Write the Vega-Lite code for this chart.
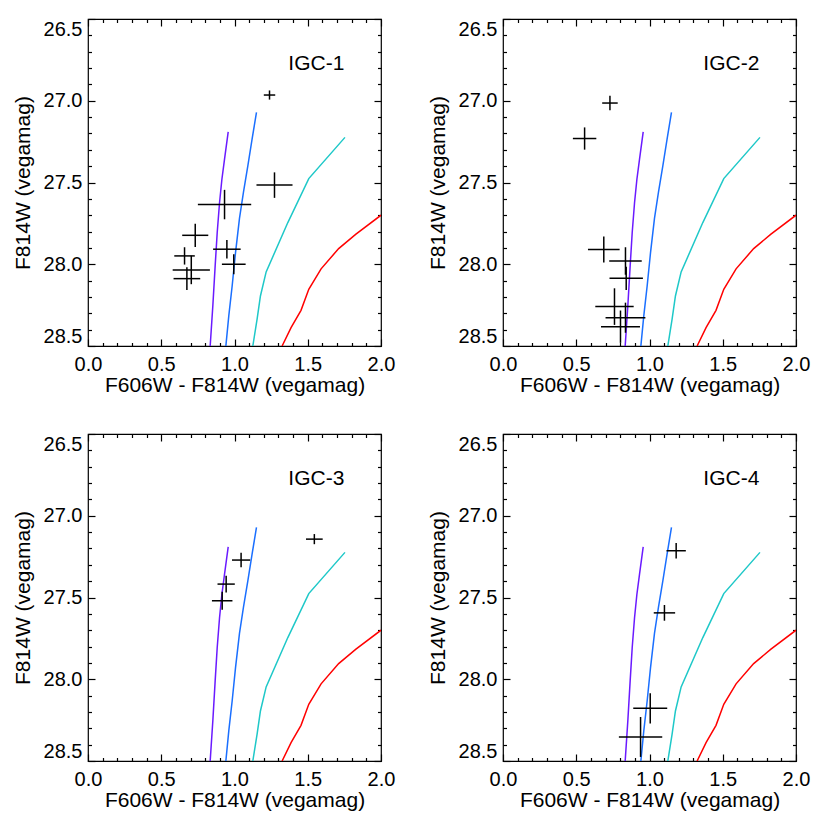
{
"$schema": "https://vega.github.io/schema/vega-lite/v6.json",
"background": "white",
"padding": {"left": 11, "top": 17, "right": 0, "bottom": 0},
"bounds": "flush",
"columns": 2,
"spacing": {"row": 88, "column": 122},
"config": {
  "view": {"stroke": "black", "strokeWidth": 1.2},
  "font": "Liberation Sans",
  "axis": {"domain": false, "grid": false, "labelFont": "Liberation Sans", "labelFontSize": 20, "labelColor": "black", "titleFont": "Liberation Sans", "titleFontSize": 21, "titleFontWeight": "normal", "titleColor": "black", "tickColor": "black", "tickWidth": 1.2}
},
"datasets": {
  "iso": [
    {"track": "1", "col": 0.957, "mag": 27.19}, {"track": "1", "col": 0.932, "mag": 27.357}, {"track": "1", "col": 0.914, "mag": 27.48}, {"track": "1", "col": 0.898, "mag": 27.622}, {"track": "1", "col": 0.882, "mag": 27.806}, {"track": "1", "col": 0.868, "mag": 28.01}, {"track": "1", "col": 0.852, "mag": 28.255}, {"track": "1", "col": 0.834, "mag": 28.5},
    {"track": "2", "col": 1.15, "mag": 27.071}, {"track": "2", "col": 1.12, "mag": 27.235}, {"track": "2", "col": 1.091, "mag": 27.398}, {"track": "2", "col": 1.061, "mag": 27.561}, {"track": "2", "col": 1.034, "mag": 27.72}, {"track": "2", "col": 1.007, "mag": 27.929}, {"track": "2", "col": 0.984, "mag": 28.133}, {"track": "2", "col": 0.961, "mag": 28.316}, {"track": "2", "col": 0.941, "mag": 28.5},
    {"track": "3", "col": 1.754, "mag": 27.224}, {"track": "3", "col": 1.507, "mag": 27.476}, {"track": "3", "col": 1.364, "mag": 27.745}, {"track": "3", "col": 1.216, "mag": 28.047}, {"track": "3", "col": 1.177, "mag": 28.194}, {"track": "3", "col": 1.154, "mag": 28.337}, {"track": "3", "col": 1.125, "mag": 28.5},
    {"track": "4", "col": 2.0, "mag": 27.7}, {"track": "4", "col": 1.829, "mag": 27.816}, {"track": "4", "col": 1.711, "mag": 27.904}, {"track": "4", "col": 1.591, "mag": 28.028}, {"track": "4", "col": 1.507, "mag": 28.153}, {"track": "4", "col": 1.454, "mag": 28.282}, {"track": "4", "col": 1.386, "mag": 28.388}, {"track": "4", "col": 1.325, "mag": 28.5}
  ],
  "stars": [
    {"panel": "IGC-1", "col": 1.239, "mag": 26.965, "ecol": 0.039, "emag": 0.028},
    {"panel": "IGC-1", "col": 1.273, "mag": 27.516, "ecol": 0.123, "emag": 0.078},
    {"panel": "IGC-1", "col": 0.932, "mag": 27.635, "ecol": 0.182, "emag": 0.09},
    {"panel": "IGC-1", "col": 0.732, "mag": 27.823, "ecol": 0.089, "emag": 0.071},
    {"panel": "IGC-1", "col": 0.948, "mag": 27.908, "ecol": 0.094, "emag": 0.057},
    {"panel": "IGC-1", "col": 0.995, "mag": 28.0, "ecol": 0.081, "emag": 0.061},
    {"panel": "IGC-1", "col": 0.659, "mag": 27.949, "ecol": 0.07, "emag": 0.053},
    {"panel": "IGC-1", "col": 0.705, "mag": 28.035, "ecol": 0.127, "emag": 0.087},
    {"panel": "IGC-1", "col": 0.675, "mag": 28.088, "ecol": 0.091, "emag": 0.07},
    {"panel": "IGC-2", "col": 0.73, "mag": 27.014, "ecol": 0.053, "emag": 0.044},
    {"panel": "IGC-2", "col": 0.557, "mag": 27.231, "ecol": 0.08, "emag": 0.068},
    {"panel": "IGC-2", "col": 0.688, "mag": 27.91, "ecol": 0.108, "emag": 0.079},
    {"panel": "IGC-2", "col": 0.836, "mag": 27.98, "ecol": 0.111, "emag": 0.084},
    {"panel": "IGC-2", "col": 0.841, "mag": 28.086, "ecol": 0.114, "emag": 0.071},
    {"panel": "IGC-2", "col": 0.761, "mag": 28.259, "ecol": 0.131, "emag": 0.112},
    {"panel": "IGC-2", "col": 0.836, "mag": 28.327, "ecol": 0.136, "emag": 0.092},
    {"panel": "IGC-2", "col": 0.802, "mag": 28.382, "ecol": 0.133, "emag": 0.099},
    {"panel": "IGC-3", "col": 1.545, "mag": 27.143, "ecol": 0.057, "emag": 0.031},
    {"panel": "IGC-3", "col": 1.045, "mag": 27.271, "ecol": 0.062, "emag": 0.044},
    {"panel": "IGC-3", "col": 0.943, "mag": 27.418, "ecol": 0.059, "emag": 0.051},
    {"panel": "IGC-3", "col": 0.916, "mag": 27.52, "ecol": 0.07, "emag": 0.055},
    {"panel": "IGC-4", "col": 1.182, "mag": 27.214, "ecol": 0.066, "emag": 0.048},
    {"panel": "IGC-4", "col": 1.102, "mag": 27.594, "ecol": 0.073, "emag": 0.048},
    {"panel": "IGC-4", "col": 1.005, "mag": 28.178, "ecol": 0.116, "emag": 0.093},
    {"panel": "IGC-4", "col": 0.939, "mag": 28.353, "ecol": 0.148, "emag": 0.122}
  ],
  "labels": [{"panel": "IGC-1"}, {"panel": "IGC-2"}, {"panel": "IGC-3"}, {"panel": "IGC-4"}]
},
"concat": [
  {"width": 293, "height": 327, "resolve": {"axis": {"x": "independent", "y": "independent"}},
   "layer": [
    {"data": {"name": "iso"}, "mark": {"type": "line", "strokeWidth": 1.5, "clip": true},
     "encoding": {
      "x": {"field": "col", "type": "quantitative", "scale": {"domain": [0, 2], "nice": false, "zero": false}, "axis": {"orient": "bottom", "values": [0, 0.5, 1, 1.5, 2], "format": ".1f", "ticks": false, "labelFlush": false, "labelPadding": 8, "title": "F606W - F814W (vegamag)", "titlePadding": 0}},
      "y": {"field": "mag", "type": "quantitative", "scale": {"domain": [26.5, 28.5], "reverse": true, "nice": false, "zero": false}, "axis": {"orient": "left", "values": [26.5, 27, 27.5, 28, 28.5], "format": ".1f", "ticks": false, "labelPadding": 6, "labelFlush": true, "title": "F814W (vegamag)", "titlePadding": 10}},
      "color": {"field": "track", "type": "nominal", "scale": {"domain": ["1", "2", "3", "4"], "range": ["#6a1aff", "#1a6fff", "#1ec8c8", "#ff0000"]}, "legend": null},
      "order": {"field": "mag", "type": "quantitative"}}},
    {"data": {"name": "stars"}, "transform": [{"filter": "datum.panel == 'IGC-1'"}], "mark": {"type": "errorbar", "color": "black", "thickness": 1.5},
     "encoding": {
      "x": {"field": "col", "type": "quantitative", "scale": {"domain": [0, 2], "nice": false, "zero": false}, "axis": {"orient": "bottom", "values": [0, 0.5, 1, 1.5, 2], "labels": false, "title": null, "tickSize": -7}},
      "xError": {"field": "ecol"},
      "y": {"field": "mag", "type": "quantitative", "scale": {"domain": [26.5, 28.5], "reverse": true, "nice": false, "zero": false}, "axis": {"orient": "left", "values": [26.5, 27, 27.5, 28, 28.5], "labels": false, "title": null, "tickSize": -7}}}},
    {"data": {"name": "stars"}, "transform": [{"filter": "datum.panel == 'IGC-1'"}], "mark": {"type": "errorbar", "color": "black", "thickness": 1.5},
     "encoding": {
      "x": {"field": "col", "type": "quantitative", "scale": {"domain": [0, 2], "nice": false, "zero": false}, "axis": {"orient": "top", "values": [0, 0.5, 1, 1.5, 2], "labels": false, "title": null, "tickSize": -7}},
      "y": {"field": "mag", "type": "quantitative", "scale": {"domain": [26.5, 28.5], "reverse": true, "nice": false, "zero": false}, "axis": {"orient": "right", "values": [26.5, 27, 27.5, 28, 28.5], "labels": false, "title": null, "tickSize": -7}},
      "yError": {"field": "emag"}}},
    {"data": {"name": "labels"}, "transform": [{"filter": "datum.panel == 'IGC-1'"}], "mark": {"type": "text", "font": "Liberation Sans", "fontSize": 21, "align": "right", "baseline": "alphabetic", "color": "black"},
     "encoding": {
      "x": {"datum": 1.75, "type": "quantitative", "scale": {"domain": [0, 2], "nice": false, "zero": false}, "axis": {"orient": "bottom", "values": [0.1, 0.2, 0.3, 0.4, 0.6, 0.7, 0.8, 0.9, 1.1, 1.2, 1.3, 1.4, 1.6, 1.7, 1.8, 1.9], "labels": false, "title": null, "tickSize": -3.5}},
      "y": {"datum": 26.81, "type": "quantitative", "scale": {"domain": [26.5, 28.5], "reverse": true, "nice": false, "zero": false}, "axis": {"orient": "left", "values": [26.6, 26.7, 26.8, 26.9, 27.1, 27.2, 27.3, 27.4, 27.6, 27.7, 27.8, 27.9, 28.1, 28.2, 28.3, 28.4], "labels": false, "title": null, "tickSize": -3.5}},
      "text": {"field": "panel"}}},
    {"data": {"name": "labels"}, "transform": [{"filter": "datum.panel == 'IGC-1'"}], "mark": {"type": "point", "opacity": 0},
     "encoding": {
      "x": {"datum": 1.75, "type": "quantitative", "scale": {"domain": [0, 2], "nice": false, "zero": false}, "axis": {"orient": "top", "values": [0.1, 0.2, 0.3, 0.4, 0.6, 0.7, 0.8, 0.9, 1.1, 1.2, 1.3, 1.4, 1.6, 1.7, 1.8, 1.9], "labels": false, "title": null, "tickSize": -3.5}},
      "y": {"datum": 26.81, "type": "quantitative", "scale": {"domain": [26.5, 28.5], "reverse": true, "nice": false, "zero": false}, "axis": {"orient": "right", "values": [26.6, 26.7, 26.8, 26.9, 27.1, 27.2, 27.3, 27.4, 27.6, 27.7, 27.8, 27.9, 28.1, 28.2, 28.3, 28.4], "labels": false, "title": null, "tickSize": -3.5}}}}
   ]},
  {"width": 293, "height": 327, "resolve": {"axis": {"x": "independent", "y": "independent"}},
   "layer": [
    {"data": {"name": "iso"}, "mark": {"type": "line", "strokeWidth": 1.5, "clip": true},
     "encoding": {
      "x": {"field": "col", "type": "quantitative", "scale": {"domain": [0, 2], "nice": false, "zero": false}, "axis": {"orient": "bottom", "values": [0, 0.5, 1, 1.5, 2], "format": ".1f", "ticks": false, "labelFlush": false, "labelPadding": 8, "title": "F606W - F814W (vegamag)", "titlePadding": 0}},
      "y": {"field": "mag", "type": "quantitative", "scale": {"domain": [26.5, 28.5], "reverse": true, "nice": false, "zero": false}, "axis": {"orient": "left", "values": [26.5, 27, 27.5, 28, 28.5], "format": ".1f", "ticks": false, "labelPadding": 6, "labelFlush": true, "title": "F814W (vegamag)", "titlePadding": 10}},
      "color": {"field": "track", "type": "nominal", "scale": {"domain": ["1", "2", "3", "4"], "range": ["#6a1aff", "#1a6fff", "#1ec8c8", "#ff0000"]}, "legend": null},
      "order": {"field": "mag", "type": "quantitative"}}},
    {"data": {"name": "stars"}, "transform": [{"filter": "datum.panel == 'IGC-2'"}], "mark": {"type": "errorbar", "color": "black", "thickness": 1.5},
     "encoding": {
      "x": {"field": "col", "type": "quantitative", "scale": {"domain": [0, 2], "nice": false, "zero": false}, "axis": {"orient": "bottom", "values": [0, 0.5, 1, 1.5, 2], "labels": false, "title": null, "tickSize": -7}},
      "xError": {"field": "ecol"},
      "y": {"field": "mag", "type": "quantitative", "scale": {"domain": [26.5, 28.5], "reverse": true, "nice": false, "zero": false}, "axis": {"orient": "left", "values": [26.5, 27, 27.5, 28, 28.5], "labels": false, "title": null, "tickSize": -7}}}},
    {"data": {"name": "stars"}, "transform": [{"filter": "datum.panel == 'IGC-2'"}], "mark": {"type": "errorbar", "color": "black", "thickness": 1.5},
     "encoding": {
      "x": {"field": "col", "type": "quantitative", "scale": {"domain": [0, 2], "nice": false, "zero": false}, "axis": {"orient": "top", "values": [0, 0.5, 1, 1.5, 2], "labels": false, "title": null, "tickSize": -7}},
      "y": {"field": "mag", "type": "quantitative", "scale": {"domain": [26.5, 28.5], "reverse": true, "nice": false, "zero": false}, "axis": {"orient": "right", "values": [26.5, 27, 27.5, 28, 28.5], "labels": false, "title": null, "tickSize": -7}},
      "yError": {"field": "emag"}}},
    {"data": {"name": "labels"}, "transform": [{"filter": "datum.panel == 'IGC-2'"}], "mark": {"type": "text", "font": "Liberation Sans", "fontSize": 21, "align": "right", "baseline": "alphabetic", "color": "black"},
     "encoding": {
      "x": {"datum": 1.75, "type": "quantitative", "scale": {"domain": [0, 2], "nice": false, "zero": false}, "axis": {"orient": "bottom", "values": [0.1, 0.2, 0.3, 0.4, 0.6, 0.7, 0.8, 0.9, 1.1, 1.2, 1.3, 1.4, 1.6, 1.7, 1.8, 1.9], "labels": false, "title": null, "tickSize": -3.5}},
      "y": {"datum": 26.81, "type": "quantitative", "scale": {"domain": [26.5, 28.5], "reverse": true, "nice": false, "zero": false}, "axis": {"orient": "left", "values": [26.6, 26.7, 26.8, 26.9, 27.1, 27.2, 27.3, 27.4, 27.6, 27.7, 27.8, 27.9, 28.1, 28.2, 28.3, 28.4], "labels": false, "title": null, "tickSize": -3.5}},
      "text": {"field": "panel"}}},
    {"data": {"name": "labels"}, "transform": [{"filter": "datum.panel == 'IGC-2'"}], "mark": {"type": "point", "opacity": 0},
     "encoding": {
      "x": {"datum": 1.75, "type": "quantitative", "scale": {"domain": [0, 2], "nice": false, "zero": false}, "axis": {"orient": "top", "values": [0.1, 0.2, 0.3, 0.4, 0.6, 0.7, 0.8, 0.9, 1.1, 1.2, 1.3, 1.4, 1.6, 1.7, 1.8, 1.9], "labels": false, "title": null, "tickSize": -3.5}},
      "y": {"datum": 26.81, "type": "quantitative", "scale": {"domain": [26.5, 28.5], "reverse": true, "nice": false, "zero": false}, "axis": {"orient": "right", "values": [26.6, 26.7, 26.8, 26.9, 27.1, 27.2, 27.3, 27.4, 27.6, 27.7, 27.8, 27.9, 28.1, 28.2, 28.3, 28.4], "labels": false, "title": null, "tickSize": -3.5}}}}
   ]},
  {"width": 293, "height": 327, "resolve": {"axis": {"x": "independent", "y": "independent"}},
   "layer": [
    {"data": {"name": "iso"}, "mark": {"type": "line", "strokeWidth": 1.5, "clip": true},
     "encoding": {
      "x": {"field": "col", "type": "quantitative", "scale": {"domain": [0, 2], "nice": false, "zero": false}, "axis": {"orient": "bottom", "values": [0, 0.5, 1, 1.5, 2], "format": ".1f", "ticks": false, "labelFlush": false, "labelPadding": 8, "title": "F606W - F814W (vegamag)", "titlePadding": 0}},
      "y": {"field": "mag", "type": "quantitative", "scale": {"domain": [26.5, 28.5], "reverse": true, "nice": false, "zero": false}, "axis": {"orient": "left", "values": [26.5, 27, 27.5, 28, 28.5], "format": ".1f", "ticks": false, "labelPadding": 6, "labelFlush": true, "title": "F814W (vegamag)", "titlePadding": 10}},
      "color": {"field": "track", "type": "nominal", "scale": {"domain": ["1", "2", "3", "4"], "range": ["#6a1aff", "#1a6fff", "#1ec8c8", "#ff0000"]}, "legend": null},
      "order": {"field": "mag", "type": "quantitative"}}},
    {"data": {"name": "stars"}, "transform": [{"filter": "datum.panel == 'IGC-3'"}], "mark": {"type": "errorbar", "color": "black", "thickness": 1.5},
     "encoding": {
      "x": {"field": "col", "type": "quantitative", "scale": {"domain": [0, 2], "nice": false, "zero": false}, "axis": {"orient": "bottom", "values": [0, 0.5, 1, 1.5, 2], "labels": false, "title": null, "tickSize": -7}},
      "xError": {"field": "ecol"},
      "y": {"field": "mag", "type": "quantitative", "scale": {"domain": [26.5, 28.5], "reverse": true, "nice": false, "zero": false}, "axis": {"orient": "left", "values": [26.5, 27, 27.5, 28, 28.5], "labels": false, "title": null, "tickSize": -7}}}},
    {"data": {"name": "stars"}, "transform": [{"filter": "datum.panel == 'IGC-3'"}], "mark": {"type": "errorbar", "color": "black", "thickness": 1.5},
     "encoding": {
      "x": {"field": "col", "type": "quantitative", "scale": {"domain": [0, 2], "nice": false, "zero": false}, "axis": {"orient": "top", "values": [0, 0.5, 1, 1.5, 2], "labels": false, "title": null, "tickSize": -7}},
      "y": {"field": "mag", "type": "quantitative", "scale": {"domain": [26.5, 28.5], "reverse": true, "nice": false, "zero": false}, "axis": {"orient": "right", "values": [26.5, 27, 27.5, 28, 28.5], "labels": false, "title": null, "tickSize": -7}},
      "yError": {"field": "emag"}}},
    {"data": {"name": "labels"}, "transform": [{"filter": "datum.panel == 'IGC-3'"}], "mark": {"type": "text", "font": "Liberation Sans", "fontSize": 21, "align": "right", "baseline": "alphabetic", "color": "black"},
     "encoding": {
      "x": {"datum": 1.75, "type": "quantitative", "scale": {"domain": [0, 2], "nice": false, "zero": false}, "axis": {"orient": "bottom", "values": [0.1, 0.2, 0.3, 0.4, 0.6, 0.7, 0.8, 0.9, 1.1, 1.2, 1.3, 1.4, 1.6, 1.7, 1.8, 1.9], "labels": false, "title": null, "tickSize": -3.5}},
      "y": {"datum": 26.81, "type": "quantitative", "scale": {"domain": [26.5, 28.5], "reverse": true, "nice": false, "zero": false}, "axis": {"orient": "left", "values": [26.6, 26.7, 26.8, 26.9, 27.1, 27.2, 27.3, 27.4, 27.6, 27.7, 27.8, 27.9, 28.1, 28.2, 28.3, 28.4], "labels": false, "title": null, "tickSize": -3.5}},
      "text": {"field": "panel"}}},
    {"data": {"name": "labels"}, "transform": [{"filter": "datum.panel == 'IGC-3'"}], "mark": {"type": "point", "opacity": 0},
     "encoding": {
      "x": {"datum": 1.75, "type": "quantitative", "scale": {"domain": [0, 2], "nice": false, "zero": false}, "axis": {"orient": "top", "values": [0.1, 0.2, 0.3, 0.4, 0.6, 0.7, 0.8, 0.9, 1.1, 1.2, 1.3, 1.4, 1.6, 1.7, 1.8, 1.9], "labels": false, "title": null, "tickSize": -3.5}},
      "y": {"datum": 26.81, "type": "quantitative", "scale": {"domain": [26.5, 28.5], "reverse": true, "nice": false, "zero": false}, "axis": {"orient": "right", "values": [26.6, 26.7, 26.8, 26.9, 27.1, 27.2, 27.3, 27.4, 27.6, 27.7, 27.8, 27.9, 28.1, 28.2, 28.3, 28.4], "labels": false, "title": null, "tickSize": -3.5}}}}
   ]},
  {"width": 293, "height": 327, "resolve": {"axis": {"x": "independent", "y": "independent"}},
   "layer": [
    {"data": {"name": "iso"}, "mark": {"type": "line", "strokeWidth": 1.5, "clip": true},
     "encoding": {
      "x": {"field": "col", "type": "quantitative", "scale": {"domain": [0, 2], "nice": false, "zero": false}, "axis": {"orient": "bottom", "values": [0, 0.5, 1, 1.5, 2], "format": ".1f", "ticks": false, "labelFlush": false, "labelPadding": 8, "title": "F606W - F814W (vegamag)", "titlePadding": 0}},
      "y": {"field": "mag", "type": "quantitative", "scale": {"domain": [26.5, 28.5], "reverse": true, "nice": false, "zero": false}, "axis": {"orient": "left", "values": [26.5, 27, 27.5, 28, 28.5], "format": ".1f", "ticks": false, "labelPadding": 6, "labelFlush": true, "title": "F814W (vegamag)", "titlePadding": 10}},
      "color": {"field": "track", "type": "nominal", "scale": {"domain": ["1", "2", "3", "4"], "range": ["#6a1aff", "#1a6fff", "#1ec8c8", "#ff0000"]}, "legend": null},
      "order": {"field": "mag", "type": "quantitative"}}},
    {"data": {"name": "stars"}, "transform": [{"filter": "datum.panel == 'IGC-4'"}], "mark": {"type": "errorbar", "color": "black", "thickness": 1.5},
     "encoding": {
      "x": {"field": "col", "type": "quantitative", "scale": {"domain": [0, 2], "nice": false, "zero": false}, "axis": {"orient": "bottom", "values": [0, 0.5, 1, 1.5, 2], "labels": false, "title": null, "tickSize": -7}},
      "xError": {"field": "ecol"},
      "y": {"field": "mag", "type": "quantitative", "scale": {"domain": [26.5, 28.5], "reverse": true, "nice": false, "zero": false}, "axis": {"orient": "left", "values": [26.5, 27, 27.5, 28, 28.5], "labels": false, "title": null, "tickSize": -7}}}},
    {"data": {"name": "stars"}, "transform": [{"filter": "datum.panel == 'IGC-4'"}], "mark": {"type": "errorbar", "color": "black", "thickness": 1.5},
     "encoding": {
      "x": {"field": "col", "type": "quantitative", "scale": {"domain": [0, 2], "nice": false, "zero": false}, "axis": {"orient": "top", "values": [0, 0.5, 1, 1.5, 2], "labels": false, "title": null, "tickSize": -7}},
      "y": {"field": "mag", "type": "quantitative", "scale": {"domain": [26.5, 28.5], "reverse": true, "nice": false, "zero": false}, "axis": {"orient": "right", "values": [26.5, 27, 27.5, 28, 28.5], "labels": false, "title": null, "tickSize": -7}},
      "yError": {"field": "emag"}}},
    {"data": {"name": "labels"}, "transform": [{"filter": "datum.panel == 'IGC-4'"}], "mark": {"type": "text", "font": "Liberation Sans", "fontSize": 21, "align": "right", "baseline": "alphabetic", "color": "black"},
     "encoding": {
      "x": {"datum": 1.75, "type": "quantitative", "scale": {"domain": [0, 2], "nice": false, "zero": false}, "axis": {"orient": "bottom", "values": [0.1, 0.2, 0.3, 0.4, 0.6, 0.7, 0.8, 0.9, 1.1, 1.2, 1.3, 1.4, 1.6, 1.7, 1.8, 1.9], "labels": false, "title": null, "tickSize": -3.5}},
      "y": {"datum": 26.81, "type": "quantitative", "scale": {"domain": [26.5, 28.5], "reverse": true, "nice": false, "zero": false}, "axis": {"orient": "left", "values": [26.6, 26.7, 26.8, 26.9, 27.1, 27.2, 27.3, 27.4, 27.6, 27.7, 27.8, 27.9, 28.1, 28.2, 28.3, 28.4], "labels": false, "title": null, "tickSize": -3.5}},
      "text": {"field": "panel"}}},
    {"data": {"name": "labels"}, "transform": [{"filter": "datum.panel == 'IGC-4'"}], "mark": {"type": "point", "opacity": 0},
     "encoding": {
      "x": {"datum": 1.75, "type": "quantitative", "scale": {"domain": [0, 2], "nice": false, "zero": false}, "axis": {"orient": "top", "values": [0.1, 0.2, 0.3, 0.4, 0.6, 0.7, 0.8, 0.9, 1.1, 1.2, 1.3, 1.4, 1.6, 1.7, 1.8, 1.9], "labels": false, "title": null, "tickSize": -3.5}},
      "y": {"datum": 26.81, "type": "quantitative", "scale": {"domain": [26.5, 28.5], "reverse": true, "nice": false, "zero": false}, "axis": {"orient": "right", "values": [26.6, 26.7, 26.8, 26.9, 27.1, 27.2, 27.3, 27.4, 27.6, 27.7, 27.8, 27.9, 28.1, 28.2, 28.3, 28.4], "labels": false, "title": null, "tickSize": -3.5}}}}
   ]}
]
}
